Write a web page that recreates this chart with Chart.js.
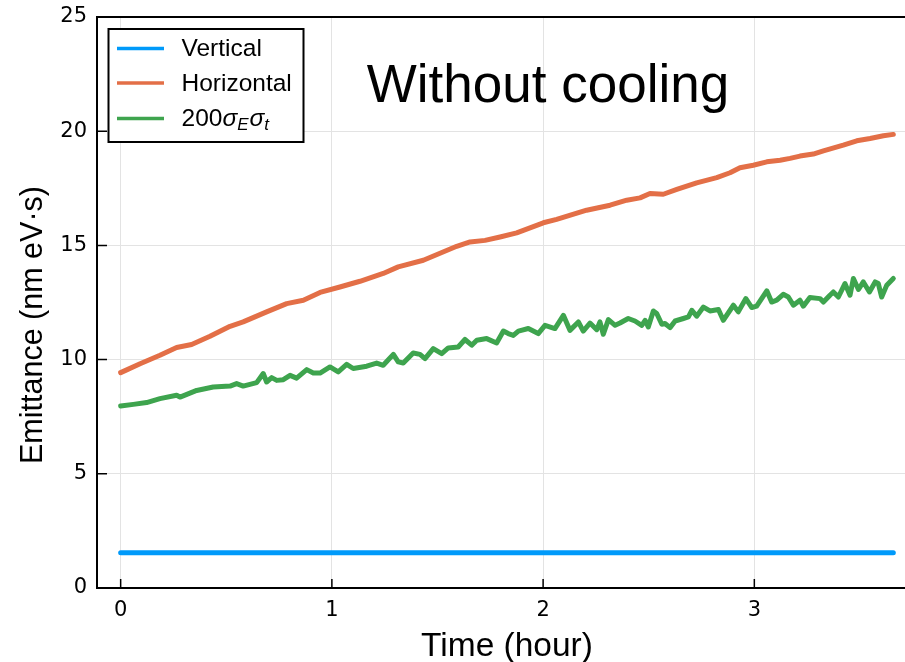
<!DOCTYPE html>
<html>
<head>
<meta charset="utf-8">
<script src="https://cdn.jsdelivr.net/npm/chart.js@4.4.1/dist/chart.umd.min.js"></script>
<style>
  html, body { margin: 0; padding: 0; background: #ffffff; overflow: hidden; }
  #wrap { position: relative; width: 912px; height: 662px; }
</style>
</head>
<body>
<div id="wrap"><canvas id="c"></canvas></div>
<script>
// ---- data ----
const seriesNames = ["Vertical", "Horizontal", "200σEσt"];
const xTicks = [0, 1, 2, 3];
const yTicks = [0, 5, 10, 15, 20, 25];

const timeVertical = [0.000, 3.658];
const vertical     = [1.54, 1.54];

const timeHorizontal = [0.000, 0.092, 0.186, 0.265, 0.336, 0.423, 0.518, 0.580, 0.691, 0.786,
  0.865, 0.944, 1.038, 1.133, 1.243, 1.314, 1.433, 1.591, 1.654, 1.725,
  1.796, 1.875, 2.001, 2.064, 2.206, 2.317, 2.396, 2.459, 2.506, 2.569,
  2.633, 2.727, 2.822, 2.885, 2.932, 2.995, 3.059, 3.122, 3.169, 3.216,
  3.279, 3.327, 3.421, 3.485, 3.548, 3.611, 3.658];
const horizontal = [9.43, 9.82, 10.19, 10.53, 10.66, 11.02, 11.46, 11.65, 12.09, 12.45,
  12.60, 12.94, 13.18, 13.43, 13.77, 14.06, 14.35, 14.96, 15.15, 15.22,
  15.37, 15.55, 15.99, 16.14, 16.54, 16.76, 16.98, 17.08, 17.27, 17.24,
  17.45, 17.74, 17.97, 18.18, 18.40, 18.51, 18.66, 18.73, 18.81, 18.91,
  19.00, 19.14, 19.39, 19.58, 19.68, 19.80, 19.86];

const timeLongitudinal = [0.000, 0.060, 0.123, 0.186, 0.265, 0.281, 0.360, 0.438, 0.518, 0.549,
  0.580, 0.644, 0.675, 0.691, 0.715, 0.739, 0.770, 0.802, 0.833, 0.881,
  0.912, 0.944, 0.991, 1.030, 1.070, 1.101, 1.165, 1.212, 1.243, 1.291,
  1.314, 1.338, 1.385, 1.417, 1.441, 1.480, 1.520, 1.551, 1.598, 1.630,
  1.662, 1.686, 1.733, 1.780, 1.812, 1.835, 1.859, 1.883, 1.930, 1.977,
  2.009, 2.056, 2.096, 2.127, 2.167, 2.190, 2.222, 2.254, 2.269, 2.285,
  2.309, 2.341, 2.364, 2.403, 2.435, 2.467, 2.483, 2.498, 2.522, 2.538,
  2.562, 2.577, 2.601, 2.625, 2.664, 2.688, 2.704, 2.727, 2.759, 2.790,
  2.830, 2.853, 2.901, 2.924, 2.960, 2.988, 3.011, 3.059, 3.082, 3.106,
  3.137, 3.161, 3.185, 3.216, 3.232, 3.263, 3.311, 3.327, 3.358, 3.374,
  3.398, 3.429, 3.453, 3.469, 3.493, 3.516, 3.545, 3.572, 3.587, 3.603,
  3.627, 3.658];
const longitudinal = [7.97, 8.04, 8.12, 8.29, 8.44, 8.36, 8.65, 8.80, 8.84, 8.95,
  8.84, 8.99, 9.39, 9.02, 9.21, 9.09, 9.12, 9.31, 9.19, 9.56,
  9.41, 9.41, 9.68, 9.46, 9.79, 9.61, 9.71, 9.85, 9.75, 10.23,
  9.90, 9.85, 10.29, 10.23, 10.04, 10.48, 10.26, 10.51, 10.55, 10.88,
  10.63, 10.85, 10.92, 10.73, 11.25, 11.14, 11.06, 11.25, 11.36, 11.14,
  11.50, 11.36, 11.94, 11.28, 11.65, 11.25, 11.60, 11.31, 11.65, 11.11,
  11.75, 11.50, 11.60, 11.80, 11.69, 11.50, 11.72, 11.43, 12.13, 12.02,
  11.55, 11.58, 11.40, 11.69, 11.80, 11.87, 12.16, 11.90, 12.30, 12.13,
  12.19, 11.72, 12.38, 12.09, 12.67, 12.28, 12.34, 13.01, 12.52, 12.60,
  12.86, 12.74, 12.38, 12.60, 12.34, 12.72, 12.67, 12.52, 12.82, 12.96,
  12.74, 13.33, 12.82, 13.55, 13.07, 13.40, 12.96, 13.40, 13.33, 12.74,
  13.26, 13.55];

const titleText = "Without cooling";
const xTitle = "Time (hour)";
const yTitle = "Emittance (nm eV·s)";

const colors = ["#009AFA", "#E36F47", "#3EA44E"];

function pairs(t, v) { return t.map((x, i) => ({ x: x, y: v[i] })); }

const tickFont = { family: "DejaVu Sans", size: 21 };
const labelFontFamily = "'Liberation Sans', Arial, sans-serif";

const decor = {
  id: 'decor',
  afterDraw(chart) {
    const ctx = chart.ctx;
    const a = chart.chartArea;
    const xs = chart.scales.x, ys = chart.scales.y;
    ctx.save();
    // frame
    ctx.strokeStyle = '#000';
    ctx.lineWidth = 2;
    ctx.strokeRect(a.left, a.top, a.right - a.left, a.bottom - a.top);
    // inward ticks
    ctx.lineWidth = 1.5;
    ctx.beginPath();
    xTicks.forEach(v => {
      const p = xs.getPixelForValue(v);
      ctx.moveTo(p, a.bottom); ctx.lineTo(p, a.bottom - 9);
    });
    yTicks.forEach(v => {
      const p = ys.getPixelForValue(v);
      ctx.moveTo(a.left, p); ctx.lineTo(a.left + 10, p);
    });
    ctx.stroke();

    // title annotation
    ctx.fillStyle = '#000';
    ctx.font = "53px " + labelFontFamily;
    ctx.textAlign = 'center';
    ctx.textBaseline = 'alphabetic';
    ctx.fillText(titleText, 548, 101.5);

    // axis titles
    ctx.font = "33.5px " + labelFontFamily;
    ctx.fillText(xTitle, 507, 656);
    ctx.save();
    ctx.translate(42, 325);
    ctx.rotate(-Math.PI / 2);
    ctx.font = "30.5px " + labelFontFamily;
    ctx.fillText(yTitle, 0, 0);
    ctx.restore();

    // legend
    const bx = 108.5, by = 29, bw = 195, bh = 113;
    ctx.fillStyle = '#fff';
    ctx.fillRect(bx, by, bw, bh);
    ctx.strokeStyle = '#000';
    ctx.lineWidth = 2;
    ctx.strokeRect(bx, by, bw, bh);
    const rows = [48.5, 83, 118.5];
    ctx.lineWidth = 3.3;
    rows.forEach((ry, i) => {
      ctx.strokeStyle = chart.data.datasets[i].borderColor;
      ctx.beginPath();
      ctx.moveTo(117, ry); ctx.lineTo(164, ry);
      ctx.stroke();
    });
    ctx.fillStyle = '#000';
    ctx.textAlign = 'left';
    ctx.textBaseline = 'middle';
    ctx.font = "24.5px " + labelFontFamily;
    ctx.fillText(seriesNames[0], 181.5, rows[0] + 1);
    ctx.fillText(seriesNames[1], 181.5, rows[1] + 1);
    // 200 σ_E σ_t
    let x = 181.5; const y3 = rows[2] + 1;
    const big = "24.5px " + labelFontFamily, bigIt = "italic 24.5px " + labelFontFamily,
          smIt = "italic 17px " + labelFontFamily;
    const parts = [["200", big, 0], ["σ", bigIt, 0], ["E", smIt, 6], ["σ", bigIt, 0], ["t", smIt, 6]];
    parts.forEach(p => {
      ctx.font = p[1];
      ctx.fillText(p[0], x, y3 + p[2]);
      x += ctx.measureText(p[0]).width + (p[2] ? 1 : 0);
    });
    ctx.restore();
  }
};

new Chart(document.getElementById('c'), {
  type: 'line',
  data: {
    datasets: [
      { label: seriesNames[0], data: pairs(timeVertical, vertical), borderColor: colors[0] },
      { label: seriesNames[1], data: pairs(timeHorizontal, horizontal), borderColor: colors[1] },
      { label: seriesNames[2], data: pairs(timeLongitudinal, longitudinal), borderColor: colors[2] }
    ].map(d => Object.assign(d, {
      borderWidth: 5, pointRadius: 0, tension: 0, fill: false,
      borderCapStyle: 'round', borderJoinStyle: 'round'
    }))
  },
  options: {
    responsive: true,
    maintainAspectRatio: false,
    animation: false,
    layout: { padding: { top: 17, right: 2, left: 0, bottom: 0 } },
    plugins: { legend: { display: false }, tooltip: { enabled: false }, title: { display: false } },
    scales: {
      x: {
        type: 'linear',
        min: -0.112, max: 3.737,
        afterBuildTicks: s => { s.ticks = xTicks.map(v => ({ value: v })); },
        afterFit: s => { s.height = 74; s.paddingLeft = 0; s.paddingRight = 0; },
        grid: { color: '#e3e3e3', lineWidth: 1, drawTicks: false },
        border: { display: true, color: '#000', width: 2 },
        ticks: { font: tickFont, color: '#000', padding: 10, maxRotation: 0 },
        title: { display: false, text: xTitle }
      },
      y: {
        type: 'linear',
        min: 0, max: 25,
        afterBuildTicks: s => { s.ticks = yTicks.map(v => ({ value: v })); },
        afterFit: s => { s.width = 97; s.paddingTop = 0; s.paddingBottom = 0; },
        grid: { color: '#e3e3e3', lineWidth: 1, drawTicks: false },
        border: { display: true, color: '#000', width: 2 },
        ticks: { font: tickFont, color: '#000', padding: 10 },
        title: { display: false, text: yTitle }
      }
    }
  },
  plugins: [decor]
});
</script>
</body>
</html>
